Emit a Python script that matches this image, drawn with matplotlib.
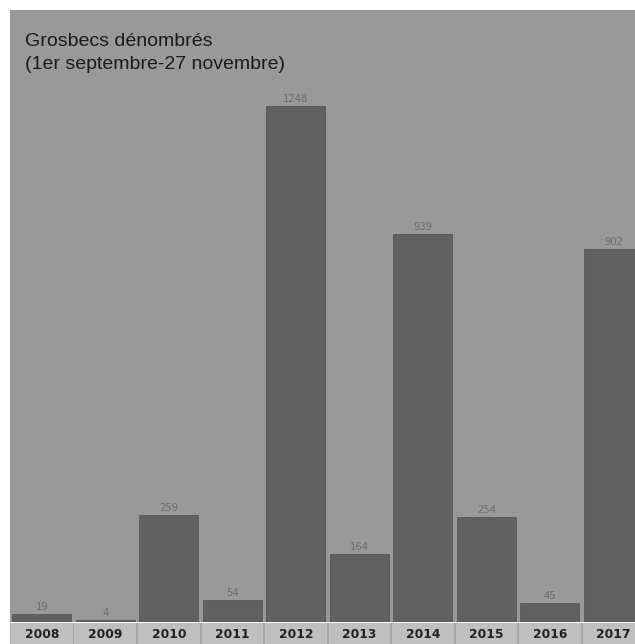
import matplotlib
matplotlib.use("Agg")
import matplotlib.pyplot as plt
import numpy as np

years = ["2008", "2009", "2010", "2011", "2012", "2013", "2014", "2015", "2016", "2017"]
counts = [19, 4, 259, 54, 1248, 164, 939, 254, 45, 902]

title = "Grosbecs dénombrés\n(1er septembre-27 novembre)"


def main():
    W, H = 635, 644
    fig = plt.figure(figsize=(W / 100, H / 100), dpi=100)
    fig.patch.set_facecolor("white")

    x = np.arange(len(years))
    xlim = (-0.5, 9.34)

    # main plot area
    ax = fig.add_axes([10 / W, 22 / H, 1 - 10 / W, 1 - 32 / H])
    ax.set_facecolor("#999999")
    ax.bar(x, counts, width=0.93, color="#606060", edgecolor="#585858", linewidth=0.6)
    for xi, c in zip(x, counts):
        ax.text(xi, c + 5, str(c), ha="center", va="bottom",
                fontsize=7.2, color="#6e6e6e")
    ax.set_xlim(*xlim)
    ax.set_ylim(0, 1480)
    ax.set_xticks([])
    ax.set_yticks([])
    for s in ax.spines.values():
        s.set_visible(False)

    # category label band
    band = fig.add_axes([10 / W, 0, 1 - 10 / W, 21 / H])
    band.set_facecolor("#a8a8a8")
    band.bar(x, [1] * len(x), width=0.97, color="#bfbfbf", linewidth=0)
    for xi, y in zip(x, years):
        band.text(xi, 0.45, y, ha="center", va="center", fontsize=8.8,
                  color="#222222", fontweight="bold")
    band.set_xlim(*xlim)
    band.set_ylim(0, 1)
    band.set_xticks([])
    band.set_yticks([])
    for s in band.spines.values():
        s.set_visible(False)

    fig.text(25 / W, 1 - 33 / H, title, ha="left", va="top", fontsize=14,
             family="Liberation Sans", color="#1a1a1a", linespacing=1.45)

    fig.savefig("out.png", dpi=100, facecolor=fig.get_facecolor())


if __name__ == '__main__':
    main()
